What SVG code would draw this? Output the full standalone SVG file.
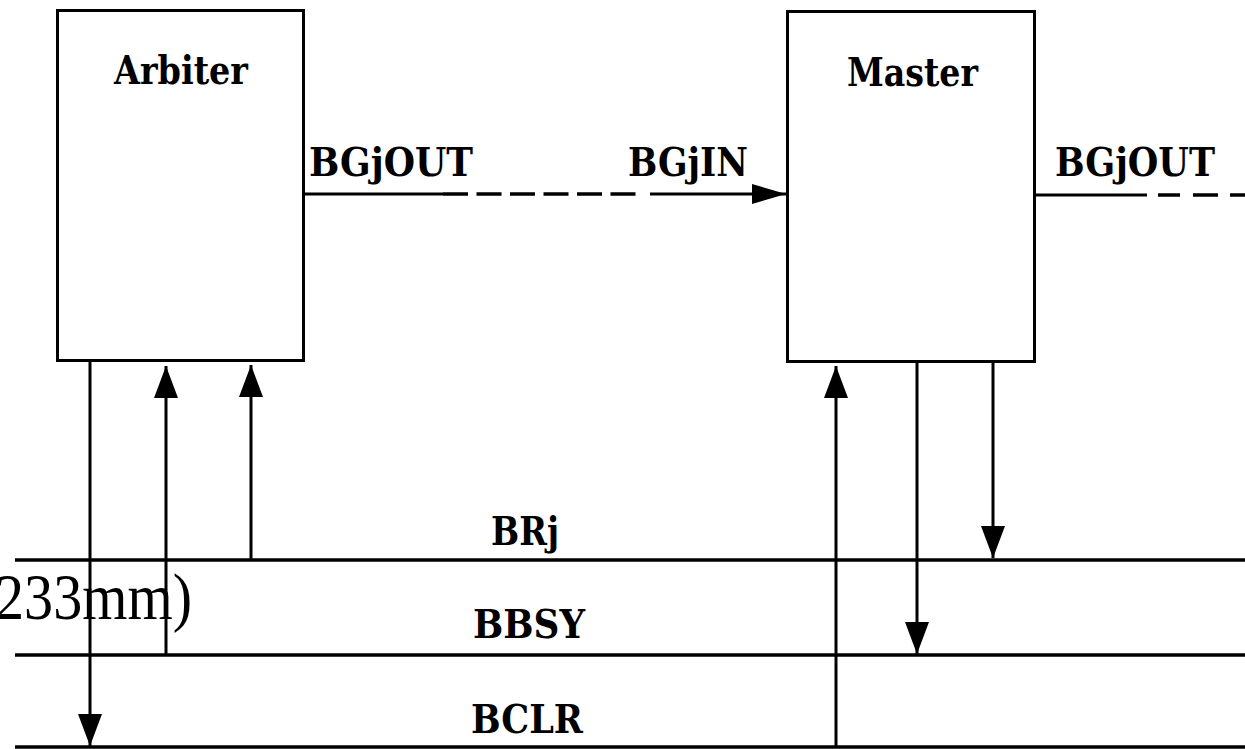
<svg xmlns="http://www.w3.org/2000/svg" width="1245" height="749" viewBox="0 0 1245 749">
<style>
.box{fill:#fff;stroke:#000;stroke-width:3}
.lbl{font-family:"DejaVu Serif","Liberation Serif",serif;font-weight:bold;font-size:40px;fill:#000}
.ln{stroke:#000;stroke-width:3;fill:none}
.dash{stroke:#000;stroke-width:3.5;fill:none;stroke-dasharray:25 8.5}
.bus{stroke:#000;stroke-width:3.5;fill:none}
.note{font-family:"Liberation Serif","Times New Roman",serif;font-size:66px;fill:#000}
</style>
<defs>
<marker id="ah" markerUnits="userSpaceOnUse" markerWidth="34" markerHeight="26" refX="32" refY="12" orient="auto">
<path d="M0,0 L32,12 L0,24 z" fill="#000"/>
</marker>
<marker id="ahh" markerUnits="userSpaceOnUse" markerWidth="36" markerHeight="22" refX="34" refY="10" orient="auto">
<path d="M0,0 L34,10 L0,20 z" fill="#000"/>
</marker>
</defs>
<rect width="1245" height="749" fill="#fff"/>
<text class="note" x="-5" y="619" textLength="197" lengthAdjust="spacingAndGlyphs">233mm)</text>
<g id="arbiter">
<rect class="box" x="57.5" y="10.5" width="246" height="350"/>
<text class="lbl" x="114" y="84" textLength="134" lengthAdjust="spacingAndGlyphs">Arbiter</text>
</g>
<g id="master">
<rect class="box" x="787.5" y="11.5" width="247" height="350"/>
<text class="lbl" x="847" y="86" textLength="131" lengthAdjust="spacingAndGlyphs">Master</text>
</g>
<g id="bus-lines">
<line class="bus" x1="15" y1="560" x2="1245" y2="560"/>
<line class="bus" x1="15" y1="655" x2="1245" y2="655"/>
<line class="bus" x1="15" y1="747" x2="1245" y2="747"/>
<text class="lbl" x="491" y="545" textLength="68" lengthAdjust="spacingAndGlyphs">BRj</text>
<text class="lbl" x="473" y="638" textLength="112" lengthAdjust="spacingAndGlyphs">BBSY</text>
<text class="lbl" x="471" y="733" textLength="112" lengthAdjust="spacingAndGlyphs">BCLR</text>
</g>
<g id="connectors">
<line class="ln" x1="305" y1="194" x2="443" y2="194"/>
<line class="dash" x1="443" y1="194" x2="642" y2="194"/>
<line class="ln" x1="650" y1="194" x2="786" y2="194" marker-end="url(#ahh)"/>
<text class="lbl" x="309" y="176" textLength="164" lengthAdjust="spacingAndGlyphs">BGjOUT</text>
<text class="lbl" x="628" y="176" textLength="120" lengthAdjust="spacingAndGlyphs">BGjIN</text>
<line class="ln" x1="1035" y1="195" x2="1147" y2="195"/>
<line class="dash" x1="1158" y1="195" x2="1180" y2="195"/>
<line class="dash" x1="1193" y1="195" x2="1220" y2="195"/>
<line class="dash" x1="1230" y1="195" x2="1245" y2="195"/>
<text class="lbl" x="1055" y="176" textLength="160" lengthAdjust="spacingAndGlyphs">BGjOUT</text>
<line class="ln" x1="90" y1="361" x2="90" y2="746" marker-end="url(#ah)"/>
<line class="ln" x1="166" y1="655" x2="166" y2="366" marker-end="url(#ah)"/>
<line class="ln" x1="251" y1="560" x2="251" y2="365" marker-end="url(#ah)"/>
<line class="ln" x1="836" y1="747" x2="836" y2="366" marker-end="url(#ah)"/>
<line class="ln" x1="917" y1="362" x2="917" y2="654" marker-end="url(#ah)"/>
<line class="ln" x1="993" y1="362" x2="993" y2="558" marker-end="url(#ah)"/>
</g>
</svg>
